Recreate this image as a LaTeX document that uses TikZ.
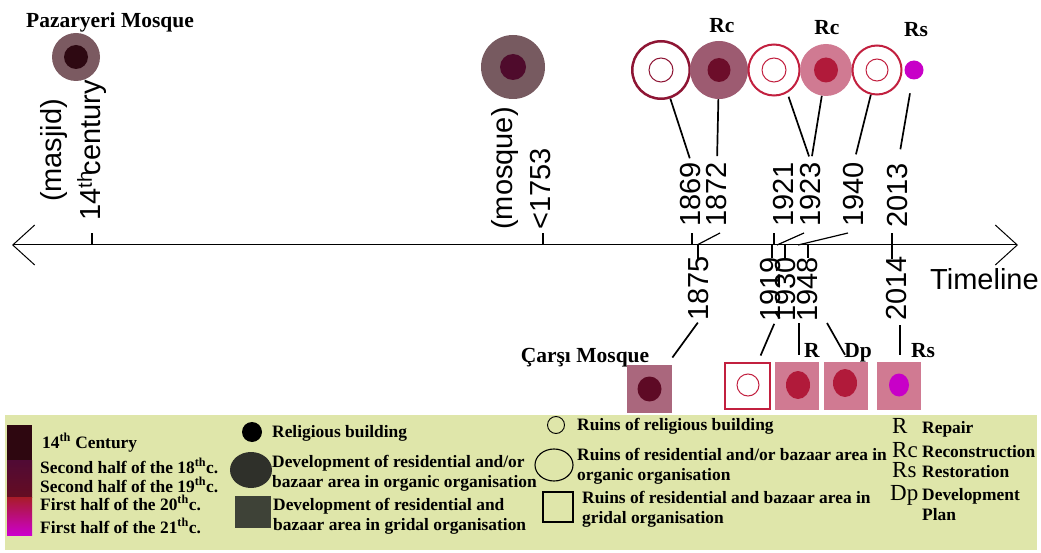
\documentclass[tikz,border=0pt]{standalone}
\usepackage{fontspec}
\setmainfont{Liberation Serif}
\newfontfamily\arialfont{Liberation Sans}
\usetikzlibrary{calc,positioning,arrows.meta}

\definecolor{pazouter}{HTML}{7B5A61}
\definecolor{pazinner}{HTML}{2E0912}
\definecolor{mosqouter}{HTML}{775A60}
\definecolor{mosqinner}{HTML}{4F0B2C}
\definecolor{ruindark}{HTML}{8E1534}
\definecolor{ruinred}{HTML}{C2203F}
\definecolor{rcone}{HTML}{9D5B71}
\definecolor{rconein}{HTML}{6C0D2A}
\definecolor{pinkfill}{HTML}{D07A92}
\definecolor{crimson}{HTML}{B11A3A}
\definecolor{magentadot}{HTML}{C800C8}
\definecolor{carsifill}{HTML}{AA677D}
\definecolor{carsiin}{HTML}{5E0A25}
\definecolor{legendbg}{HTML}{DFE6AA}
\definecolor{legdark}{HTML}{2F302A}
\definecolor{legsquare}{HTML}{3E4237}
\definecolor{cfourteen}{HTML}{2E0710}
\definecolor{ceighteen}{HTML}{500A35}
\definecolor{cnineteen}{HTML}{650D22}
\definecolor{ctwenty}{HTML}{A81C28}
\definecolor{ctwentyone}{HTML}{CC00CC}

\tikzset{
  yearlab/.style={rotate=90, anchor=west, inner sep=0pt, font=\arialfont\fontsize{29}{39}\selectfont},
  legtext/.style={anchor=base west, align=left, inner sep=0pt, font=\bfseries\fontsize{17.4}{19.5}\selectfont},
  abbr/.style={anchor=base west, inner sep=0pt, font=\fontsize{23}{26}\selectfont},
  tagtext/.style={anchor=base, inner sep=0pt, font=\bfseries\fontsize{21.5}{24}\selectfont},
  link/.style={line width=1.7pt},
  tickmark/.style={line width=1.2pt},
  period/.style={circle, inner sep=0pt, draw=none},
  ruin/.style={circle, inner sep=0pt, fill=white, draw=ruinred, line width=2pt},
  parcel/.style={rectangle, inner sep=0pt, minimum width=44pt, minimum height=48pt, fill=pinkfill},
}

\begin{document}
\begin{tikzpicture}[x=1pt,y=-1pt]
    \useasboundingbox (0,0) rectangle (1041,553);

    % Timeline
    \coordinate (tl) at (12,245);
    \coordinate (tr) at (1018,245);
    \draw[line width=1pt, {Straight Barb[length=22pt,width=40pt]}-{Straight Barb[length=22pt,width=40pt]}] (tl) -- (tr);
    \node[anchor=base west, inner sep=0pt, font=\arialfont\fontsize{29}{34}\selectfont] (timeline) at (930,290) {Timeline};

    % Ticks above the axis
    \draw[tickmark] (92,245) -- ++(0,-12);
    \draw[tickmark] (543,245) -- ++(0,-12);
    \draw[tickmark] (692,245) -- ++(0,-12);
    \draw[tickmark] (697,245) -- ++(23,-12);
    \draw[tickmark] (774,245) -- ++(0,-12);
    \draw[tickmark] (777,245) -- ++(27,-12);
    \draw[tickmark] (798,245) -- ++(50,-12);
    \draw[tickmark] (892,245) -- ++(0,-12);

    % Ticks below the axis
    \draw[tickmark] (698,245) -- ++(0,14);
    \draw[tickmark] (772,245) -- ++(0,13);
    \draw[tickmark] (785,245) -- ++(0,13);
    \draw[tickmark] (808,245) -- ++(0,13);
    \draw[tickmark] (892,245) -- ++(0,14);

    % Pazaryeri Mosque
    \node[tagtext] (pazname) at (110,28) {Pazaryeri Mosque};
    \node[period, minimum size=48pt, fill=pazouter] (paz) at (76,57) {};
    \fill[pazinner] (paz.center) circle (12pt);
    \node[yearlab, anchor=south west, align=center] (l14) at (107,221) {(masjid)\\14\textsuperscript{th}\kern-4pt century};

    % Mosque before 1753
    \node[period, minimum size=64pt, fill=mosqouter] (mosq) at (513,67) {};
    \fill[mosqinner] (mosq.center) circle (13pt);
    \node[yearlab, anchor=south west, align=left, font=\arialfont\fontsize{29}{38}\selectfont] (l1753) at (551,230) {(mosque)\\<1753};

    % Upper row of symbols
    \node[ruin, draw=ruindark, line width=2.5pt, minimum size=57.5pt] (c1) at (661,70) {};
    \draw[ruindark, line width=1pt] (c1.center) circle (12pt);
    \node[period, minimum size=58pt, fill=rcone] (c2) at (719,70) {};
    \fill[rconein] (c2.center) ellipse [x radius=11.5pt, y radius=12pt];
    \node[tagtext] (rc1) at (722,33) {Rc};
    \node[ruin, minimum size=51pt] (c3) at (774,70) {};
    \draw[ruinred, line width=1pt] (c3.center) circle (12pt);
    \node[period, minimum size=52pt, fill=pinkfill] (c4) at (826,70) {};
    \fill[crimson] (c4.center) ellipse [x radius=12pt, y radius=12.5pt];
    \node[tagtext] (rc2) at (827,35) {Rc};
    \node[ruin, minimum size=49pt] (c5) at (877,70) {};
    \draw[ruinred, line width=1pt] (c5.center) circle (11pt);
    \node[period, minimum size=19pt, fill=magentadot] (c6) at (914,70) {};
    \node[tagtext] (rs1) at (916,37) {Rs};

    % Years above the axis
    \node[yearlab] (y1869) at (691,227) {1869};
    \node[yearlab] (y1872) at (717,227) {1872};
    \node[yearlab] (y1921) at (784,227) {1921};
    \node[yearlab] (y1923) at (811,227) {1923};
    \node[yearlab] (y1940) at (854,227) {1940};
    \node[yearlab] (y2013) at (898,228) {2013};

    % Years below the axis
    \node[yearlab] (y1875) at (699,321) {1875};
    \node[yearlab] (y1919) at (771,322) {1919};
    \node[yearlab] (y1930) at (786,322) {1930};
    \node[yearlab] (y1948) at (808,322) {1948};
    \node[yearlab] (y2014) at (897,321) {2014};

    % Links to the upper symbols
    \draw[link, shorten >=4pt] (c1) -- (y1869.east);
    \draw[link, shorten >=6pt] (c2) -- (y1872.east);
    \draw[link, shorten <=4pt, shorten >=6pt] (c3.-60) -- (y1923.east);
    \draw[link, shorten >=6pt] (c4) -- (y1923.east);
    \draw[link, shorten >=8pt] (c5) -- (y1940.east);
    \draw[link, shorten <=14pt, shorten >=14pt] (c6) -- (y2013.east);

    % Carsi Mosque and lower row of symbols
    \node[tagtext] (carsiname) at (585,362) {Çarşı Mosque};
    \node[parcel, minimum width=45pt, fill=carsifill] (sq1) at (649.5,389) {};
    \fill[carsiin] (sq1.center) ellipse [x radius=12pt, y radius=12.5pt];
    \node[parcel, fill=white, draw=ruinred, line width=2pt, minimum width=45pt, minimum height=46pt] (sq2) at (747.5,386) {};
    \draw[ruinred, line width=1pt] (748,385) circle (11pt);
    \node[parcel] (sq3) at (797,386) {};
    \fill[crimson] (798,385) ellipse [x radius=12pt, y radius=14pt];
    \node[tagtext] (rlab) at (812,357) {R};
    \node[parcel] (sq4) at (846,386) {};
    \fill[crimson] (845,383) ellipse [x radius=12pt, y radius=14pt];
    \node[tagtext] (dplab) at (858,357) {Dp};
    \node[parcel] (sq5) at (899,386) {};
    \fill[magentadot] (899,385) ellipse [x radius=10pt, y radius=11.5pt];
    \node[tagtext] (rs2) at (923,357) {Rs};

    % Links to the lower symbols
    \draw[link, shorten <=9pt, shorten >=2pt] (sq1) -- (y1875.west);
    \draw[link, shorten <=7pt, shorten >=2pt] (sq2) -- ($(y1919.west)+(4,0)$);
    \draw[link] ($(sq3.north)+(2,-7)$) -- ($(y1930.west)+(13,1)$);
    \draw[link] ($(sq4.north)+(-1,-7)$) -- ($(y1948.west)+(19,1)$);
    \draw[link] ($(sq5.north)+(1,-7)$) -- ($(y2014.west)+(3,4)$);

    % Legend
    \fill[legendbg] (5,415) rectangle (1037,550);

    % Periods
    \fill[cfourteen] (7,425) rectangle (32,460);
    \shade[top color=ceighteen, bottom color=cnineteen] (7,460) rectangle (32,497);
    \shade[top color=ctwenty, bottom color=ctwentyone] (7,497) rectangle (32,535);
    \node[legtext] (p14) at (42,448) {14\textsuperscript{th} Century};
    \node[legtext] (p18) at (40,473) {Second half of the 18\textsuperscript{th}c.};
    \node[legtext] (p19) at (40,492) {Second half of the 19\textsuperscript{th}c.};
    \node[legtext] (p20) at (40,510) {First half of the 20\textsuperscript{th}c.};
    \node[legtext] (p21) at (40,533) {First half of the 21\textsuperscript{th}c.};

    % Buildings (base of a two-line text is its last line)
    \fill[black] (252,432) circle (10pt);
    \node[legtext] (kreligious) at (272,437) {Religious building};
    \fill[legdark] (251,470) ellipse [x radius=21pt, y radius=18pt];
    \node[legtext] (korganic) at (272,487) {Development of residential and/or\\bazaar area in organic organisation};
    \fill[legsquare] (235,496) rectangle (271,528);
    \node[legtext] (kgridal) at (273,530) {Development of residential and\\bazaar area in gridal organisation};

    % Ruins
    \draw[line width=0.9pt] (556,425) circle (8.5pt);
    \node[legtext] (kruin) at (577,430) {Ruins of religious building};
    \draw[line width=1.1pt] (554,465) ellipse [x radius=19pt, y radius=16pt];
    \node[legtext] (kruinorganic) at (577,480) {Ruins of residential and/or bazaar area in\\organic organisation};
    \draw[line width=1.1pt] (543,492) rectangle (573,522);
    \node[legtext] (kruingridal) at (582,523) {Ruins of residential and bazaar area in\\gridal organisation};

    % Interventions
    \node[abbr] (ar) at (892,433) {R};
    \node[legtext] (krepair) at (922,433) {Repair};
    \node[abbr] (arc) at (892,457) {Rc};
    \node[legtext] (krecon) at (922,457) {Reconstruction};
    \node[abbr] (ars) at (892,477) {Rs};
    \node[legtext] (krestor) at (922,477) {Restoration};
    \node[abbr] (adp) at (890,500) {Dp};
    \node[legtext, font=\bfseries\fontsize{17.4}{20}\selectfont] (kplan) at (922,520) {Development\\Plan};
\end{tikzpicture}
\end{document}
